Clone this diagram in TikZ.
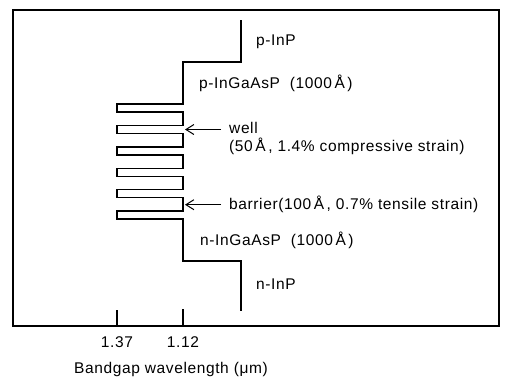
\documentclass[tikz,border=0pt]{standalone}
\usepackage{fontspec}
\setmainfont{Liberation Sans}[LetterSpace=4]
\usetikzlibrary{arrows.meta}
\begin{document}
\begin{tikzpicture}[x=1pt,y=-1pt,
  lbl/.style={anchor=base west,inner sep=0pt,font=\fontsize{15.5}{18}\selectfont},
  ticklbl/.style={anchor=base,inner sep=0pt,font=\fontsize{15.5}{18}\selectfont},
  prof/.style={line width=1.4pt,line join=miter},
  frame/.style={line width=1.3pt},
  ptr/.style={line width=1pt,-{Straight Barb[length=8pt,width=10pt,line width=1pt]}}]
\useasboundingbox (0,0) rectangle (505,376);
\draw[frame] (13,10) rectangle (499,326);
% bandgap profile
\draw[prof] (241,20) -- (241,62) -- (183,62) -- (183,104)
  \foreach \i in {0,...,5} {
    -- (117,{104+21.4*\i}) -- (117,{112+21.4*\i}) -- (183,{112+21.4*\i})
    -- (183,{104+21.4*(\i+1)})
  };
\draw[prof] (183,219) -- (183,261) -- (241,261) -- (241,311);
% ticks
\draw[line width=1.1pt] (117,310) -- (117,326);
\draw[line width=1.1pt] (183,309) -- (183,326);
% labels
\node[lbl] (pinp) at (256,45) {p-InP};
\node[lbl] (pq) at (199,88) {p-InGaAsP\ \ (1000\,Å\,)};
\node[lbl] (well) at (229,133) {well};
\node[lbl] (wellinfo) at (229,151) {(50\,Å\,,\ 1.4\% compressive strain)};
\node[lbl] (barrier) at (229,209) {barrier(100\,Å\,,\ 0.7\% tensile strain)};
\node[lbl] (nq) at (200,245) {n-InGaAsP\ \ (1000\,Å\,)};
\node[lbl] (ninp) at (256,289) {n-InP};
\node[ticklbl] (t137) at (117,347) {1.37};
\node[ticklbl] (t112) at (183,347) {1.12};
\node[lbl] (axis) at (74,373) {Bandgap wavelength (μm)};
% arrows
\coordinate (wa) at (221,129.5);
\coordinate (wb) at (185,129.5);
\coordinate (ba) at (221,204.7);
\coordinate (bb) at (185,204.7);
\draw[ptr] (wa) -- (wb);
\draw[ptr] (ba) -- (bb);
\end{tikzpicture}
\end{document}
